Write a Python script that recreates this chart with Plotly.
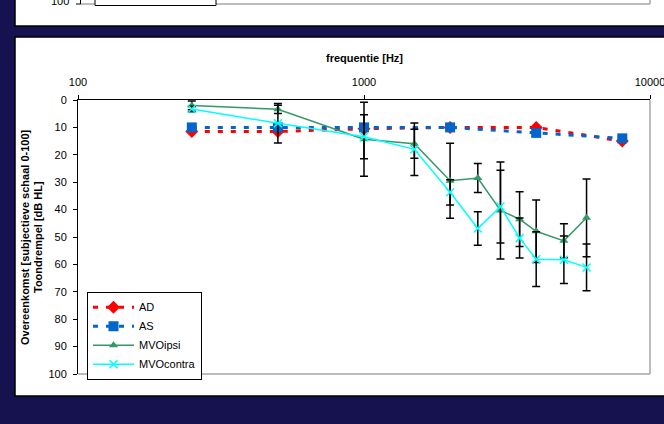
import plotly.graph_objects as go

# ---- data ----
freq_ad = [250, 500, 1000, 2000, 4000, 8000]
ad_vals = [11.5, 11.5, 10.5, 10, 10, 15]
as_vals = [10, 10, 10, 10, 12, 14]

freq_mvo = [250, 500, 1000, 1500, 2000, 2500, 3000, 3500, 4000, 5000, 6000]
ipsi_vals = [2, 3.4, 14.3, 16, 29.5, 28.5, 40.3, 43.5, 47.9, 51.4, 43]
ipsi_err = [1.6, 1.5, 13.5, 5.3, 13.7, 5.3, 17.7, 10, 11.4, 6.2, 14.2]
contra_vals = [3.3, 8.5, 13.4, 18, 33.7, 46.9, 38.9, 50.4, 58.1, 58.3, 61.1]
contra_err = [1, 7.2, 8, 9.6, 4.6, 6.1, 13.3, 7.3, 10, 8.7, 8.5]

x_ticks = [100, 1000, 10000]
x_ticktext = ["100", "1000", "10000"]
y_ticks = list(range(0, 101, 10))

# ---- layout geometry (pixels) ----
W, H = 664, 424
L, R, T, B = 78, 650, 100, 374
FONT = "Liberation Sans, Arial, sans-serif"
NAVY = "#16124f"


def px(x):
    return (x - L) / (R - L)


def py(y):
    return (B - y) / (B - T)


fig = go.Figure()
fig.add_trace(go.Scatter(
    x=freq_ad, y=ad_vals, name="AD", mode="lines+markers",
    line=dict(color="#ff0000", width=3, dash="5px,8px"),
    marker=dict(symbol="diamond", size=10, color="#ff0000")))
fig.add_trace(go.Scatter(
    x=freq_ad, y=as_vals, name="AS", mode="lines+markers",
    line=dict(color="#0066cc", width=3, dash="5px,8px"),
    marker=dict(symbol="square", size=10, color="#0066cc")))
fig.add_trace(go.Scatter(
    x=freq_mvo, y=ipsi_vals, name="MVOipsi", mode="lines+markers",
    line=dict(color="#339966", width=1.5),
    marker=dict(symbol="triangle-up", size=8, color="#339966"),
    error_y=dict(type="data", array=ipsi_err, symmetric=True,
                 color="black", thickness=1.5, width=4)))
fig.add_trace(go.Scatter(
    x=freq_mvo, y=contra_vals, name="MVOcontra", mode="lines+markers",
    line=dict(color="#00ffff", width=1.5),
    marker=dict(symbol="x-thin", size=8, color="#00ffff",
                line=dict(color="#00ffff", width=1.5)),
    error_y=dict(type="data", array=contra_err, symmetric=True,
                 color="black", thickness=1.5, width=4)))

shapes = [
    # main white panel
    dict(type="rect", xref="paper", yref="paper", x0=px(15), x1=px(690),
         y0=py(396), y1=py(37), fillcolor="white",
         line=dict(color="black", width=1.5), layer="below"),
    # top white panel (previous chart)
    dict(type="rect", xref="paper", yref="paper", x0=px(15), x1=px(690),
         y0=py(26), y1=py(-20), fillcolor="white",
         line=dict(color="black", width=1.5), layer="below"),
    # previous chart remnants
    dict(type="line", xref="paper", yref="paper", x0=px(80.5), x1=px(650),
         y0=py(4), y1=py(4), line=dict(color="#a6a6a6", width=1.5)),
    dict(type="line", xref="paper", yref="paper", x0=px(650), x1=px(650),
         y0=py(4), y1=py(-5), line=dict(color="#a6a6a6", width=1.5)),
    dict(type="line", xref="paper", yref="paper", x0=px(80.5), x1=px(80.5),
         y0=py(4), y1=py(-5), line=dict(color="black", width=1)),
    dict(type="line", xref="paper", yref="paper", x0=px(76), x1=px(80.5),
         y0=py(4), y1=py(4), line=dict(color="black", width=1)),
    dict(type="rect", xref="paper", yref="paper", x0=px(95), x1=px(216),
         y0=py(5.5), y1=py(-10), fillcolor="white",
         line=dict(color="black", width=1)),
    # plot area right / bottom border (gray)
    dict(type="line", xref="paper", yref="paper", x0=1, x1=1, y0=0, y1=1,
         line=dict(color="#a6a6a6", width=1.5)),
    dict(type="line", xref="paper", yref="paper", x0=0, x1=1, y0=0, y1=0,
         line=dict(color="#a6a6a6", width=1.5)),
]

annotations = [
    dict(text="<b>frequentie [Hz]</b>", xref="paper", yref="paper",
         x=px(364), y=py(58), showarrow=False, xanchor="center",
         yanchor="middle", font=dict(size=11, color="black", family=FONT)),
    dict(text="<b>Overeenkomst [subjectieve schaal 0-100]</b>", xref="paper",
         yref="paper", x=px(25), y=py(237), showarrow=False, textangle=-90,
         xanchor="center", yanchor="middle",
         font=dict(size=11, color="black", family=FONT)),
    dict(text="<b>Toondrempel [dB HL]</b>", xref="paper",
         yref="paper", x=px(38), y=py(237), showarrow=False, textangle=-90,
         xanchor="center", yanchor="middle",
         font=dict(size=11, color="black", family=FONT)),
    dict(text="100", xref="paper", yref="paper", x=px(71), y=py(1),
         showarrow=False, xanchor="right", yanchor="middle",
         font=dict(size=11, color="black", family=FONT)),
]

fig.update_layout(
    width=W, height=H,
    margin=dict(l=L, r=W - R, t=T, b=H - B, pad=0, autoexpand=False),
    paper_bgcolor=NAVY, plot_bgcolor="white",
    font=dict(family=FONT, size=11, color="black"),
    shapes=shapes, annotations=annotations,
    showlegend=True,
    legend=dict(x=px(87), y=py(291.7), xanchor="left", yanchor="top",
                bgcolor="white", bordercolor="black", borderwidth=1,
                font=dict(size=11, family=FONT, color="black"),
                itemwidth=41, tracegroupgap=0),
    xaxis=dict(type="log", range=[2, 4], side="top", showline=True,
               linecolor="black", linewidth=1, ticks="outside", ticklen=4,
               tickcolor="black", tickvals=x_ticks, ticktext=x_ticktext,
               showgrid=False, zeroline=False, ticklabelstandoff=5,
               ticklabeloverflow="allow", automargin=False,
               tickfont=dict(size=11, family=FONT, color="black")),
    yaxis=dict(range=[100, 0], showline=True, linecolor="black", linewidth=1,
               ticks="outside", ticklen=4, tickcolor="black",
               tickvals=y_ticks, showgrid=False, zeroline=False,
               ticklabelstandoff=4, automargin=False,
               tickfont=dict(size=11, family=FONT, color="black")),
)

fig.write_html("out.html")
